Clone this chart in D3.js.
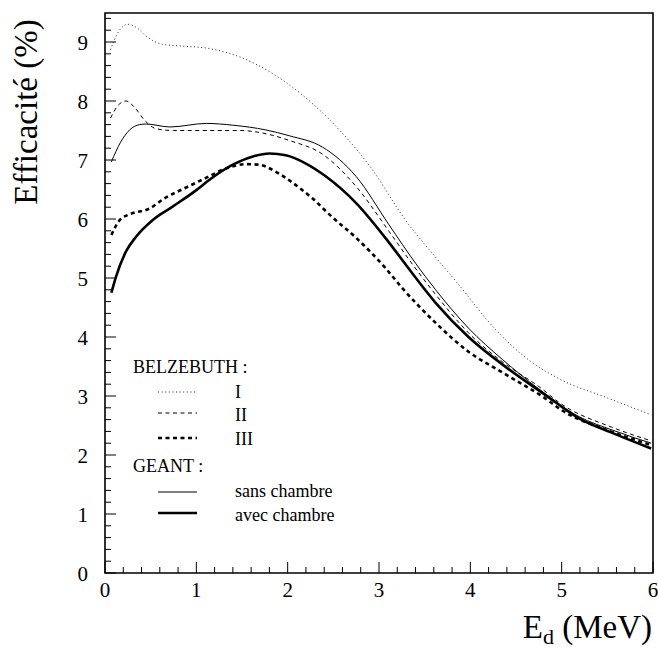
<!DOCTYPE html>
<html>
<head>
<meta charset="utf-8">
<script src="https://cdn.jsdelivr.net/npm/d3@7"></script>
<style>
  html, body { margin: 0; padding: 0; background: #fff; overflow: hidden; }
  svg { display: block; }
  svg text { font-family: 'Liberation Serif', 'Times New Roman', Times, serif !important; }
</style>
</head>
<body>
<svg id="chart" width="658" height="650" viewBox="0 0 658 650"></svg>
<script>
// ---- data (E_d in MeV, efficiency in %) ----
const belzI_E   = [0.06,0.15,0.25,0.35,0.45,0.63,0.85,1.14,1.47,1.83,2.13,2.46,2.93,3.29,3.62,3.85,4.28,4.64,5.00,5.48,5.98];
const belzI_V   = [8.87,9.18,9.30,9.24,9.10,8.96,8.93,8.89,8.75,8.47,8.14,7.68,6.83,5.98,5.35,4.93,4.12,3.61,3.27,2.98,2.68];

const belzII_E  = [0.06,0.14,0.23,0.33,0.43,0.56,0.75,1.04,1.47,1.83,2.02,2.38,2.75,3.11,3.33,3.62,3.98,4.35,4.75,5.00,5.55,5.98];
const belzII_V  = [7.71,7.92,8.00,7.88,7.68,7.53,7.50,7.50,7.50,7.42,7.33,7.10,6.55,5.79,5.31,4.72,4.07,3.58,3.16,2.86,2.47,2.24];

const belzIII_E = [0.07,0.16,0.27,0.49,0.65,0.87,1.11,1.33,1.55,1.69,1.87,2.05,2.27,2.49,2.75,3.07,3.26,3.62,3.98,4.35,4.82,5.00,5.50,5.98];
const belzIII_V = [5.73,5.98,6.08,6.18,6.35,6.52,6.70,6.86,6.93,6.92,6.80,6.62,6.35,6.03,5.68,5.17,4.82,4.24,3.75,3.40,2.96,2.76,2.42,2.17];

const sans_E    = [0.07,0.17,0.27,0.38,0.45,0.71,1.11,1.40,1.76,2.02,2.38,2.75,3.11,3.40,3.62,3.98,4.35,4.75,5.19,5.56,5.98];
const sans_V    = [6.97,7.30,7.51,7.60,7.61,7.56,7.62,7.59,7.51,7.41,7.22,6.72,5.90,5.25,4.80,4.15,3.62,3.12,2.65,2.42,2.20];

const avec_E    = [0.07,0.12,0.23,0.34,0.52,0.74,1.00,1.14,1.40,1.62,1.80,1.98,2.20,2.42,2.75,3.11,3.31,3.62,3.98,4.39,4.82,5.19,5.56,5.98];
const avec_V    = [4.75,5.02,5.45,5.70,5.98,6.21,6.49,6.66,6.92,7.06,7.11,7.08,6.94,6.72,6.27,5.60,5.19,4.58,4.00,3.49,3.02,2.62,2.37,2.11];

const xTicks = [0,1,2,3,4,5,6];
const yTicks = [0,1,2,3,4,5,6,7,8,9];

// ---- layout ----
const FONT = "Liberation Serif";
const svg = d3.select("#chart");
const L = 105, R = 653, T = 13, B = 573;
const x = d3.scaleLinear().domain([0, 6]).range([L, R]);
const y = d3.scaleLinear().domain([0, 9.5]).range([B, B - 9.5 * 59]);

// frame drawn as a closed path
svg.append("path")
  .attr("d", `M${L},${T}H${R}V${B}H${L}Z`)
  .attr("fill", "none").attr("stroke", "#000").attr("stroke-width", 1.6);

// y axis ticks (inside)
const yMinor = d3.range(0, 9.41, 0.2).map(v => +v.toFixed(2));
const gy = svg.append("g");
gy.selectAll("line").data(yMinor).join("line")
  .attr("x1", L).attr("x2", d => L + (Math.abs(d - Math.round(d)) < 1e-6 ? 11 : 6))
  .attr("y1", d => y(d)).attr("y2", d => y(d))
  .attr("stroke", "#000").attr("stroke-width", 1);
gy.selectAll("text").data(yTicks).join("text")
  .attr("x", 88).attr("y", d => y(d) + 7.5)
  .style("font-family", FONT)
  .attr("text-anchor", "end").attr("font-size", 21).text(d => d);

// x axis ticks (inside)
const xMinor = d3.range(0, 6.01, 0.2).map(v => +v.toFixed(2));
const gx = svg.append("g");
gx.selectAll("line").data(xMinor).join("line")
  .attr("x1", d => x(d)).attr("x2", d => x(d))
  .attr("y1", B).attr("y2", d => B - (Math.abs(d - Math.round(d)) < 1e-6 ? 11 : 6))
  .attr("stroke", "#000").attr("stroke-width", 1);
gx.selectAll("text").data(xTicks).join("text")
  .attr("x", d => x(d)).attr("y", 597)
  .style("font-family", FONT)
  .attr("text-anchor", "middle").attr("font-size", 21).text(d => d);

// axis titles
svg.append("text").attr("transform", "translate(37,112) rotate(-90)")
  .style("font-family", FONT)
  .attr("text-anchor", "middle").attr("font-size", 33).text("Efficacité (%)");
const xt = svg.append("text").attr("x", 652).attr("y", 638).attr("text-anchor", "end")
  .style("font-family", FONT).attr("font-size", 33);
xt.append("tspan").text("E");
xt.append("tspan").attr("font-size", 22).attr("dy", 6).text("d");
xt.append("tspan").attr("dy", -6).text(" (MeV)");

// curves
const series = [
  { E: belzI_E,   V: belzI_V,   w: 1.0, dash: "1,2.6", col: "#222" },
  { E: belzII_E,  V: belzII_V,  w: 1.0, dash: "4,3.5", col: "#000" },
  { E: belzIII_E, V: belzIII_V, w: 2.6, dash: "4,3.5", col: "#000" },
  { E: sans_E,    V: sans_V,    w: 1.0, dash: null,    col: "#000" },
  { E: avec_E,    V: avec_V,    w: 2.6, dash: null,    col: "#000" }
];
svg.append("clipPath").attr("id", "clip").append("rect")
  .attr("x", L).attr("y", T).attr("width", R - L).attr("height", B - T);
const line = d3.line().x(d => x(d[0])).y(d => y(d[1])).curve(d3.curveMonotoneX);
const gc = svg.append("g").attr("clip-path", "url(#clip)");
series.forEach(s => {
  gc.append("path").datum(s.E.map((e, i) => [e, s.V[i]]))
    .attr("d", line).attr("fill", "none").attr("stroke", s.col)
    .attr("stroke-width", s.w).attr("stroke-dasharray", s.dash);
});

// legend
const lg = svg.append("g").attr("font-size", 18);
lg.append("text").attr("x", 133).attr("y", 373).style("font-family", FONT).text("BELZEBUTH :");
lg.append("text").attr("x", 133).attr("y", 472).style("font-family", FONT).text("GEANT :");
const legendItems = [
  { s: 0, label: "I",            ly: 392, ty: 398 },
  { s: 1, label: "II",           ly: 413, ty: 421 },
  { s: 2, label: "III",          ly: 438, ty: 445 },
  { s: 3, label: "sans chambre", ly: 492, ty: 497 },
  { s: 4, label: "avec chambre", ly: 513, ty: 521 }
];
legendItems.forEach(it => {
  const s = series[it.s];
  lg.append("line").attr("x1", 158).attr("x2", 197).attr("y1", it.ly).attr("y2", it.ly)
    .attr("stroke", s.col).attr("stroke-width", s.w).attr("stroke-dasharray", s.dash);
  lg.append("text").attr("x", 235).attr("y", it.ty).style("font-family", FONT).text(it.label);
});
</script>
</body>
</html>
